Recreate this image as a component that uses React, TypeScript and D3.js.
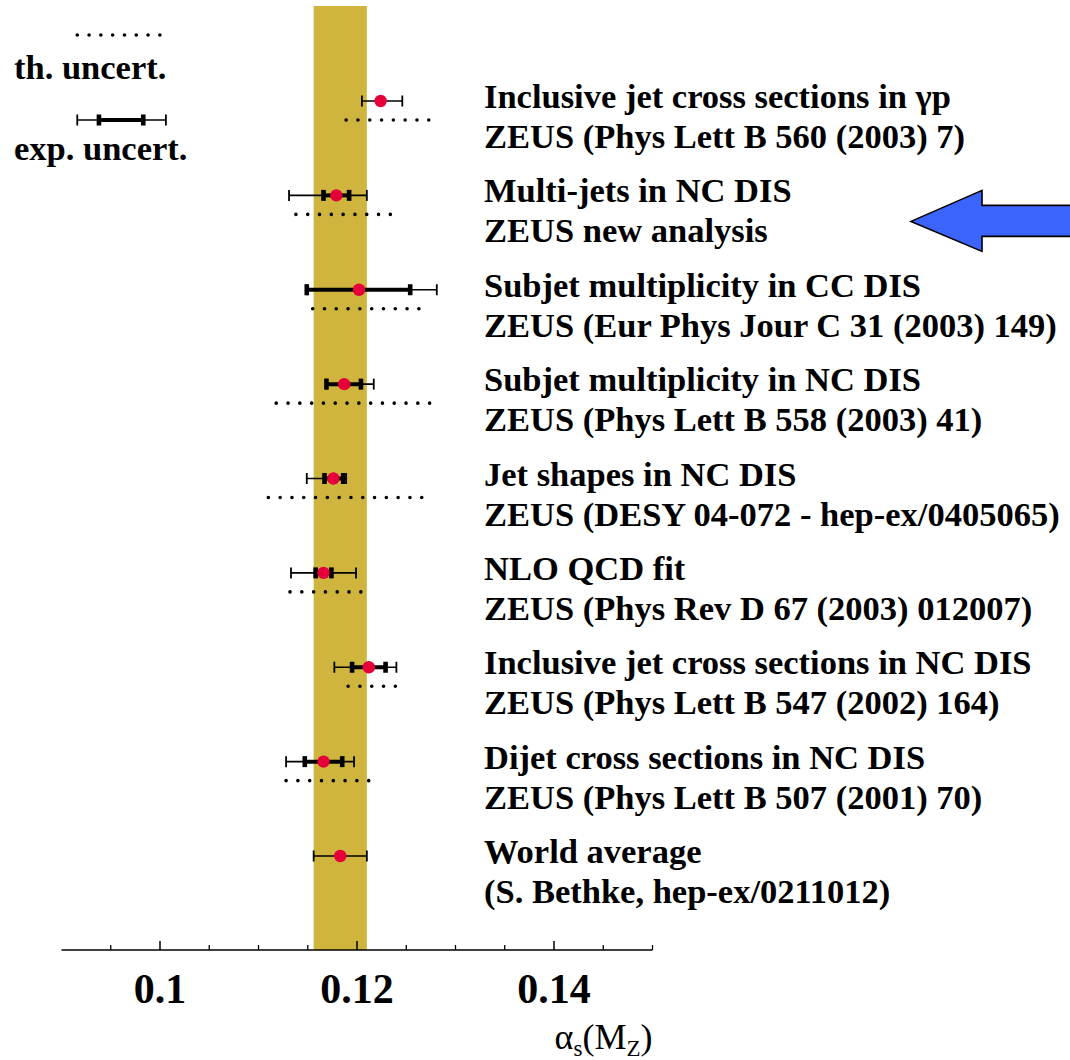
import { useEffect } from "react";
import * as d3 from "d3";

const titles = [
  "Inclusive jet cross sections in γp",
  "Multi-jets in NC DIS",
  "Subjet multiplicity in CC DIS",
  "Subjet multiplicity in NC DIS",
  "Jet shapes in NC DIS",
  "NLO QCD fit",
  "Inclusive jet cross sections in NC DIS",
  "Dijet cross sections in NC DIS",
  "World average",
];
const refs = [
  "ZEUS (Phys Lett B 560 (2003) 7)",
  "ZEUS new analysis",
  "ZEUS (Eur Phys Jour C 31 (2003) 149)",
  "ZEUS (Phys Lett B 558 (2003) 41)",
  "ZEUS (DESY 04-072 - hep-ex/0405065)",
  "ZEUS (Phys Rev D 67 (2003) 012007)",
  "ZEUS (Phys Lett B 547 (2002) 164)",
  "ZEUS (Phys Lett B 507 (2001) 70)",
  "(S. Bethke, hep-ex/0211012)",
];
const central = [0.1224, 0.1179, 0.1202, 0.1187, 0.1176, 0.1166, 0.1212, 0.1166, 0.1183];
// thin bars (total experimental)
const expLo = [0.1205, 0.1131, 0.1149, 0.1169, 0.1149, 0.1133, 0.1177, 0.1128, 0.1156];
const expHi = [0.1246, 0.121, 0.1281, 0.1217, 0.1189, 0.1199, 0.124, 0.1197, 0.121];
// thick bars (statistical)
const statLo = [null, 0.1166, 0.1149, 0.1169, 0.1167, 0.1158, 0.1195, 0.1147, null];
const statHi = [null, 0.1192, 0.1254, 0.1204, 0.1186, 0.1174, 0.1229, 0.1185, null];
// dotted (theory)
const thLo = [0.1189, 0.1138, 0.1155, 0.1118, 0.111, 0.1132, 0.1191, 0.1128, null];
const thHi = [0.1272, 0.1235, 0.1263, 0.1273, 0.1266, 0.1204, 0.1239, 0.1212, null];

const worldBand = [0.1156, 0.1210];
const majorTicks = [0.1, 0.12, 0.14];
const minorTicks = [0.095, 0.105, 0.11, 0.115, 0.125, 0.13, 0.135, 0.145, 0.15];
const legendTh = [0.0916, 0.1];
const legendExp = [0.0916, 0.1006];
const legendStat = [0.0938, 0.0983];

const W = 1070;
const H = 1060;
const FONT = "'Liberation Serif', 'Times New Roman', serif";
const RED = "#e6003a";
const GOLD = "#cfb43e";

export default function App() {
  useEffect(() => {
    document.body.style.margin = "0";
    const svg = d3.select("#chart");
    svg.selectAll("*").remove();

    const x = d3.scaleLinear().domain([0.09, 0.15]).range([61.5, 652.5]);
    const y = d3
      .scalePoint<number>()
      .domain(d3.range(titles.length))
      .range([101, 856]);
    const axisY = 950;

    svg
      .append("rect")
      .attr("x", x(worldBand[0]))
      .attr("y", 6)
      .attr("width", x(worldBand[1]) - x(worldBand[0]))
      .attr("height", axisY - 6)
      .attr("fill", GOLD);

    // axis
    svg
      .append("line")
      .attr("x1", x(0.09))
      .attr("x2", x(0.15))
      .attr("y1", axisY)
      .attr("y2", axisY)
      .attr("stroke", "#000")
      .attr("stroke-width", 1.5);
    svg
      .selectAll("line.minor")
      .data(minorTicks)
      .join("line")
      .attr("class", "minor")
      .attr("x1", (d) => x(d))
      .attr("x2", (d) => x(d))
      .attr("y1", axisY)
      .attr("y2", axisY - 5)
      .attr("stroke", "#000")
      .attr("stroke-width", 1.3);
    svg
      .selectAll("line.major")
      .data(majorTicks)
      .join("line")
      .attr("class", "major")
      .attr("x1", (d) => x(d))
      .attr("x2", (d) => x(d))
      .attr("y1", axisY)
      .attr("y2", axisY - 9)
      .attr("stroke", "#000")
      .attr("stroke-width", 1.5);
    svg
      .selectAll("text.tick")
      .data(majorTicks)
      .join("text")
      .attr("class", "tick")
      .attr("x", (d) => x(d))
      .attr("y", 1003)
      .attr("text-anchor", "middle")
      .style("font", `bold 42px ${FONT}`)
      .text((d) => String(d));

    const xl = svg
      .append("text")
      .attr("x", x(0.15))
      .attr("y", 1049)
      .attr("text-anchor", "end")
      .style("font", `36px ${FONT}`);
    xl.append("tspan").text("α");
    xl.append("tspan").attr("dy", 7).style("font-size", "23px").text("s");
    xl.append("tspan").attr("dy", -7).text("(M");
    xl.append("tspan").attr("dy", 7).style("font-size", "23px").text("Z");
    xl.append("tspan").attr("dy", -7).text(")");

    const idx = d3.range(titles.length);

    const drawDots = (x1: number, x2: number, yy: number) => {
      svg
        .append("line")
        .attr("x1", x1)
        .attr("x2", x2 + 1)
        .attr("y1", yy)
        .attr("y2", yy)
        .attr("stroke", "#000")
        .attr("stroke-width", 3.6)
        .attr("stroke-linecap", "round")
        .attr("stroke-dasharray", "0 11.8");
    };
    const thinBar = (x1: number, x2: number, yy: number) => {
      svg.append("line").attr("x1", x1).attr("x2", x2).attr("y1", yy).attr("y2", yy)
        .attr("stroke", "#000").attr("stroke-width", 1.6);
      [x1, x2].forEach((xx) =>
        svg.append("line").attr("x1", xx).attr("x2", xx).attr("y1", yy - 5.5).attr("y2", yy + 5.5)
          .attr("stroke", "#000").attr("stroke-width", 1.8)
      );
    };
    const thickBar = (x1: number, x2: number, yy: number) => {
      svg.append("line").attr("x1", x1).attr("x2", x2).attr("y1", yy).attr("y2", yy)
        .attr("stroke", "#000").attr("stroke-width", 4);
      [x1, x2].forEach((xx) =>
        svg.append("rect").attr("x", xx - 2.3).attr("y", yy - 5.5).attr("width", 4.6).attr("height", 11)
          .attr("fill", "#000")
      );
    };

    idx.forEach((i) => {
      const yy = y(i)!;
      const tl = thLo[i];
      const th = thHi[i];
      if (tl != null && th != null) drawDots(x(tl), x(th), yy + 19);
      thinBar(x(expLo[i]), x(expHi[i]), yy);
      const sl = statLo[i];
      const sh = statHi[i];
      if (sl != null && sh != null) thickBar(x(sl), x(sh), yy);
      svg.append("circle").attr("cx", x(central[i])).attr("cy", yy).attr("r", 6.2).attr("fill", RED);

      svg.append("text").attr("x", 484).attr("y", yy + 7)
        .style("font", `bold 34.5px ${FONT}`).text(titles[i]);
      svg.append("text").attr("x", 484).attr("y", yy + 47)
        .style("font", `bold 34.5px ${FONT}`).text(refs[i]);
    });

    // legend
    drawDots(x(legendTh[0]), x(legendTh[1]), 35);
    svg.append("text").attr("x", 14).attr("y", 79)
      .style("font", `bold 34.5px ${FONT}`).text("th. uncert.");
    thinBar(x(legendExp[0]), x(legendExp[1]), 120);
    thickBar(x(legendStat[0]), x(legendStat[1]), 120);
    svg.append("text").attr("x", 14).attr("y", 160)
      .style("font", `bold 34.5px ${FONT}`).text("exp. uncert.");

    // arrow pointing at the new analysis
    const ay = y(1)! + 26;
    const arrow = d3.path();
    arrow.moveTo(911, ay);
    arrow.lineTo(982, ay - 31);
    arrow.lineTo(982, ay - 16);
    arrow.lineTo(1075, ay - 16);
    arrow.lineTo(1075, ay + 15);
    arrow.lineTo(982, ay + 15);
    arrow.lineTo(982, ay + 30);
    arrow.closePath();
    svg.append("path").attr("d", arrow.toString()).attr("fill", "#3a64fc")
      .attr("stroke", "#000").attr("stroke-width", 1.6).attr("stroke-linejoin", "miter");
  }, []);

  return <svg id="chart" width={W} height={H} style={{ display: "block", background: "#fff" }} />;
}
